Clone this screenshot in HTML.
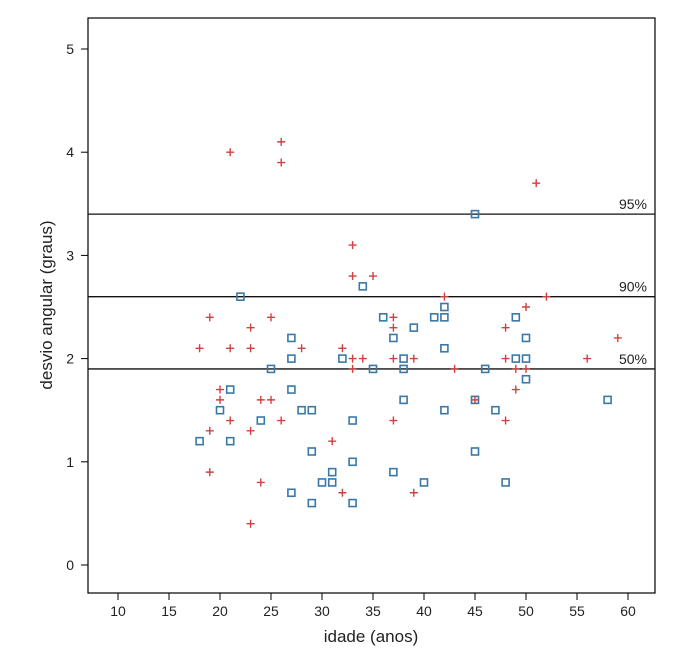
<!DOCTYPE html>
<html><head><meta charset="utf-8"><style>
html,body{margin:0;padding:0;background:#fff}
svg{display:block;font-family:"Liberation Sans",sans-serif}
</style></head><body>
<svg id="c" width="700" height="663">
<rect x="88" y="18" width="567" height="575" fill="none" stroke="#000" stroke-width="1.2"/>
<g id="axes"></g><g id="refs"></g><g id="pts"></g>
<text x="371" y="642" text-anchor="middle" font-size="17" fill="#222">idade (anos)</text>
<text transform="translate(52,305) rotate(-90)" text-anchor="middle" font-size="17" fill="#222">desvio angular (graus)</text>
</svg>
<script>
const xTicks=[10,15,20,25,30,35,40,45,50,55,60];
const yTicks=[0,1,2,3,4,5];
const refValues=[1.9,2.6,3.4];
const refLabels=["50%","90%","95%"];
const squareAges=[18,20,21,21,22,24,25,27,27,27,27,28,29,29,29,30,31,31,32,33,33,33,34,35,36,37,37,38,38,38,39,40,41,42,42,42,42,45,45,45,46,47,48,49,49,50,50,50,58];
const squareVals=[1.2,1.5,1.7,1.2,2.6,1.4,1.9,2.2,2.0,1.7,0.7,1.5,1.5,1.1,0.6,0.8,0.9,0.8,2.0,1.4,1.0,0.6,2.7,1.9,2.4,2.2,0.9,2.0,1.9,1.6,2.3,0.8,2.4,2.5,2.4,2.1,1.5,3.4,1.6,1.1,1.9,1.5,0.8,2.4,2.0,2.2,2.0,1.8,1.6];
const plusAges=[18,19,19,19,20,20,21,21,21,23,23,23,23,24,24,25,25,26,26,26,28,31,32,32,33,33,33,33,34,35,37,37,37,37,39,39,42,43,45,48,48,48,49,49,50,50,51,52,56,59];
const plusVals=[2.1,2.4,1.3,0.9,1.7,1.6,4.0,2.1,1.4,2.3,2.1,1.3,0.4,1.6,0.8,2.4,1.6,4.1,3.9,1.4,2.1,1.2,2.1,0.7,3.1,2.8,2.0,1.9,2.0,2.8,2.4,2.3,2.0,1.4,2.0,0.7,2.6,1.9,1.6,2.3,2.0,1.4,1.9,1.7,2.5,1.9,3.7,2.6,2.0,2.2];
const X=a=>118+(a-10)*10.2, Y=v=>565-v*103.2;
const NS="http://www.w3.org/2000/svg";
function mk(tag,parent,attrs){const e=document.createElementNS(NS,tag);for(const k in attrs)e.setAttribute(k,attrs[k]);document.getElementById(parent).appendChild(e);return e;}
xTicks.forEach(t=>{
 const l=mk('line','axes',{x1:X(t),x2:X(t),y1:593,y2:600,stroke:'#000'});
 
 
 const tx=mk('text','axes',{x:X(t),y:616,'text-anchor':'middle','font-size':14,fill:'#222'});tx.textContent=t;
 
 
});
yTicks.forEach(t=>{
 const l=mk('line','axes',{x1:81,x2:88,y1:Y(t),y2:Y(t),stroke:'#000'});
 
 
 const tx=mk('text','axes',{x:74,y:Y(t)+5,'text-anchor':'end','font-size':14,fill:'#222'});tx.textContent=t;
 
 
});
refValues.forEach((v,i)=>{
 const l=mk('line','refs',{x1:88,x2:655,y1:Y(v),y2:Y(v),stroke:'#111','stroke-width':1.3});
 
 
 const tx=mk('text','refs',{x:647,y:Y(v)-5,'text-anchor':'end','font-size':14,fill:'#222'});tx.textContent=refLabels[i];
 
 
});
squareAges.forEach((a,i)=>{
 const r=mk('rect','pts',{x:X(a)-3.5,y:Y(squareVals[i])-3.5,width:7,height:7,fill:'none',stroke:'#3a78a8','stroke-width':1.6});
 
 
});
plusAges.forEach((a,i)=>{
 const x=X(a),y=Y(plusVals[i]);
 const p=mk('path','pts',{d:`M${x-4} ${y}H${x+4}M${x} ${y-4}V${y+4}`,stroke:'#d04040','stroke-width':1.4});
 
 
});
</script>
</body></html>
